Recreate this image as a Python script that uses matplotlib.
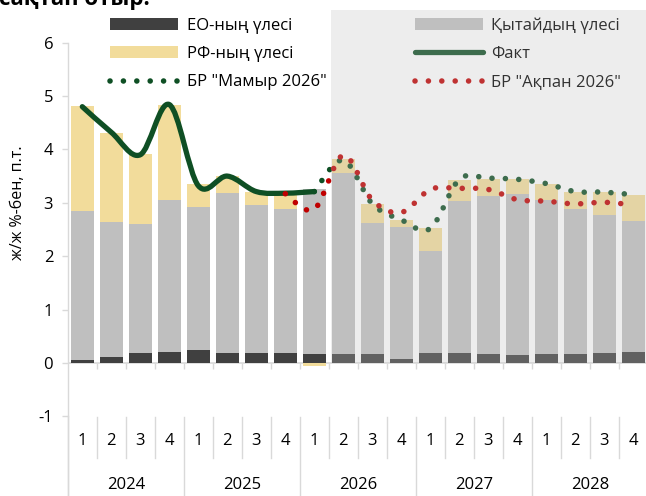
import matplotlib
matplotlib.use('Agg')
import matplotlib.pyplot as plt
import matplotlib.transforms as mtransforms
from matplotlib.path import Path
from matplotlib.patches import PathPatch, Rectangle, Patch
from matplotlib.lines import Line2D
import numpy as np

plt.rcParams['font.family'] = ['Open Sans', 'DejaVu Sans']

# ---------------- data ----------------
quarters = ['1', '2', '3', '4'] * 5
years = ['2024', '2025', '2026', '2027', '2028']

eo_share = [0.05, 0.12, 0.19, 0.21, 0.25, 0.18, 0.19, 0.19, 0.17, 0.17,
            0.17, 0.07, 0.19, 0.19, 0.17, 0.15, 0.17, 0.17, 0.19, 0.21]
china_share = [2.80, 2.52, 2.42, 2.84, 2.67, 3.01, 2.77, 2.69, 3.08, 3.39,
               2.46, 2.48, 1.91, 2.84, 2.96, 3.02, 2.89, 2.72, 2.59, 2.45]
rf_share = [1.96, 1.66, 1.30, 1.78, 0.43, 0.31, 0.25, 0.32, -0.05, 0.26,
            0.35, 0.13, 0.43, 0.40, 0.31, 0.27, 0.29, 0.31, 0.42, 0.48]

fakt = [4.80, 4.32, 3.90, 4.84, 3.32, 3.50, 3.21, 3.18, 3.21]

may_start = 8
may_2026 = [3.21, 3.80, 2.98, 2.68, 2.52, 3.44, 3.46, 3.44, 3.36, 3.21, 3.20, 3.15]

feb_start = 7
feb_2026 = [3.17, 2.88, 3.89, 3.05, 2.82, 3.25, 3.27, 3.25, 3.06, 3.03, 2.98, 3.01, 2.96]

labels = ['ЕО-ның үлесі', 'РФ-ның үлесі', 'БР "Мамыр 2026"',
          'Қытайдың үлесі', 'Факт', 'БР "Ақпан 2026"']

# ---------------- style ----------------
C_EO = '#404040'
C_CN = '#BFBFBF'
C_RF = '#F2DC9B'
C_FAKT = '#0F4F24'
C_MAY = '#0E4F24'
C_FEB = '#C00000'
C_AX = '#D9D9D9'
DOTS = (0, (0.01, 2.4))

W, H = 646, 496
fig = plt.figure(figsize=(W / 100, H / 100), dpi=100)
ax_left, ax_right = 67.8, 647.8
y_top, y_bot = 42.6, 416.4
ax = fig.add_axes([ax_left / W, 1 - y_bot / H, (ax_right - ax_left) / W, (y_bot - y_top) / H])
ax.set_xlim(-0.5, 19.5)
ax.set_ylim(-1, 6)
ax.patch.set_alpha(0)

x = np.arange(len(quarters))
pos = np.zeros(len(x))
neg = np.zeros(len(x))
for vals, col in [(eo_share, C_EO), (china_share, C_CN), (rf_share, C_RF)]:
    v = np.array(vals)
    bottom = np.where(v >= 0, pos, neg)
    ax.bar(x, v, 0.81, bottom=bottom, color=col, zorder=2, linewidth=0)
    pos += np.clip(v, 0, None)
    neg += np.clip(v, None, 0)


def smooth_path(xs, ys):
    pts = np.column_stack([xs, ys]).astype(float)
    n = len(pts)
    verts = [pts[0]]
    codes = [Path.MOVETO]
    for i in range(n - 1):
        p0 = pts[i - 1] if i > 0 else pts[i]
        p1 = pts[i]
        p2 = pts[i + 1]
        p3 = pts[i + 2] if i + 2 < n else pts[i + 1]
        c1 = p1 + (p2 - p0) / 6.0
        c2 = p2 - (p3 - p1) / 6.0
        verts += [c1, c2, p2]
        codes += [Path.CURVE4] * 3
    return Path(verts, codes)


ax.add_patch(PathPatch(smooth_path(np.arange(len(fakt)), fakt), fill=False,
                       edgecolor=C_FAKT, lw=3.8, capstyle='round', joinstyle='round', zorder=4))
ax.add_patch(PathPatch(smooth_path(np.arange(len(may_2026)) + may_start, may_2026), fill=False,
                       edgecolor=C_MAY, lw=4.0, linestyle=DOTS, capstyle='round', zorder=4.5))
ax.add_patch(PathPatch(smooth_path(np.arange(len(feb_2026)) + feb_start, feb_2026), fill=False,
                       edgecolor=C_FEB, lw=4.0, linestyle=DOTS, capstyle='round', zorder=5))

# axes decoration
for s in ['top', 'right', 'bottom']:
    ax.spines[s].set_visible(False)
ax.spines['left'].set_color(C_AX)
ax.spines['left'].set_linewidth(1.0)
ax.set_yticks(range(-1, 7))
ax.set_yticklabels([str(t) for t in range(-1, 7)])
ax.tick_params(axis='y', length=4.5, width=1.0, color=C_AX, labelsize=12, pad=6, labelcolor='#000000')
ax.set_xticks([])
ax.axhline(0, color=C_AX, lw=1.2, zorder=1.5)
ax.vlines(x + 0.5, -0.11, 0, color=C_AX, lw=1.0, zorder=1.5)

# category labels (multi-level)
bt = mtransforms.blended_transform_factory(ax.transData, fig.transFigure)
yq = 1 - 441 / H
yy = 1 - 485 / H
for i, q in enumerate(quarters):
    ax.text(i, yq, q, transform=bt, ha='center', va='center', fontsize=12, clip_on=False)
for k, yr in enumerate(years):
    ax.text(4 * k + 1.5, yy, yr, transform=bt, ha='center', va='center', fontsize=12, clip_on=False)
sep_top = 1 - 417 / H
sep_q = 1 - 458 / H
for b in np.arange(-0.5, 20, 1.0):
    is_year = (round(b + 0.5) % 4 == 0)
    y0 = 0 if is_year else sep_q
    ax.add_line(Line2D([b, b], [y0, sep_top], transform=bt, color=C_AX, lw=1.0, clip_on=False))
ax.add_line(Line2D([-0.5, -0.5], [0, 1 - y_bot / H], transform=bt, color=C_AX, lw=1.0, clip_on=False))

fig.text(18 / W, 1 - 203 / H, 'ж/ж %-бен, п.т.', rotation=90, ha='center', va='center', fontsize=11.5)

# partially visible title line
fig.text(-0.002, 1 - 5 / H, 'сақтап отыр.', fontsize=16, fontweight='bold', ha='left', va='baseline')

handles = [Patch(facecolor=C_EO), Patch(facecolor=C_RF),
           Line2D([], [], color=C_MAY, lw=4.0, linestyle=DOTS, dash_capstyle='round'),
           Patch(facecolor=C_CN),
           Line2D([], [], color=C_FAKT, lw=3.8, solid_capstyle='round'),
           Line2D([], [], color=C_FEB, lw=4.0, linestyle=DOTS, dash_capstyle='round')]
fig.legend(handles, labels, ncol=2, loc='upper left', bbox_to_anchor=(110 / W, 1 - 17 / H),
           frameon=False, fontsize=12, handlelength=4.1, handleheight=0.7, handletextpad=0.5,
           columnspacing=5.3, labelspacing=0.75, borderpad=0, borderaxespad=0)

# forecast shading overlay
shade = Rectangle((8.58, 0), 20, (363 - 10) / 53.4, transform=ax.transData, facecolor='#BFBFBF',
                  alpha=0.267, edgecolor='none', zorder=6, clip_on=False)
fig.add_artist(shade)
shade.set_transform(ax.transData)

fig.savefig('out.png', dpi=100)
